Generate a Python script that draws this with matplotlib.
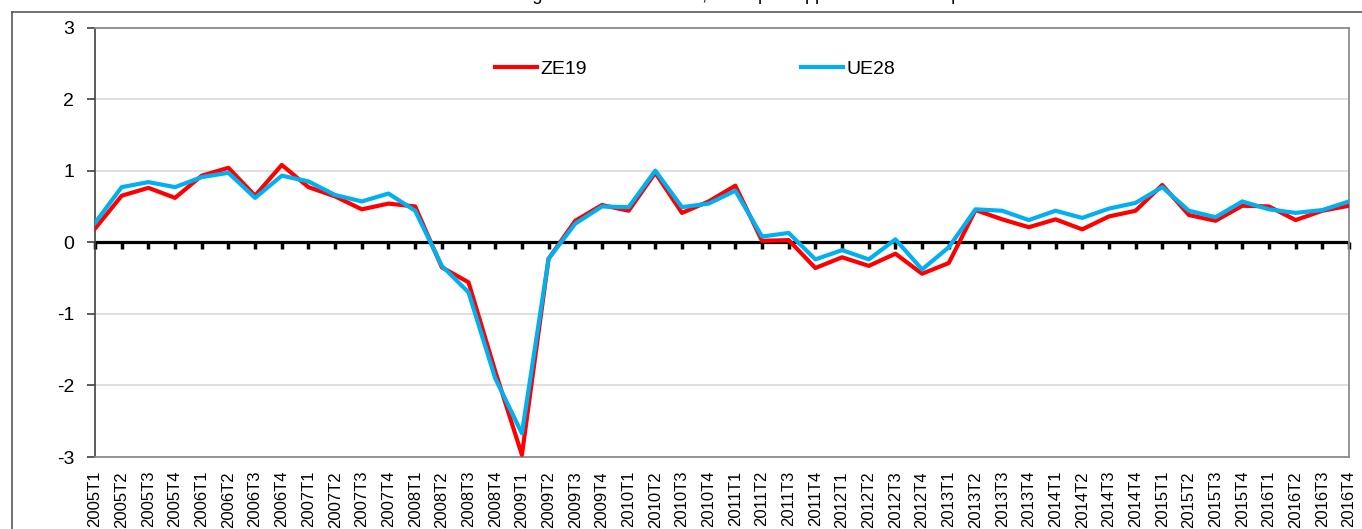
import matplotlib
matplotlib.use("Agg")
import matplotlib.pyplot as plt
from matplotlib.lines import Line2D

plt.rcParams['font.family'] = ['Liberation Sans', 'DejaVu Sans']
plt.rcParams['axes.unicode_minus'] = False

# -- données : croissance trimestrielle du PIB (%) --
years = list(range(2005, 2017))
quarters = ['T1', 'T2', 'T3', 'T4']
labels = [f'{y}{q}' for y in years for q in quarters]

ze19 = [0.19, 0.65, 0.76, 0.62, 0.93, 1.04, 0.65, 1.08, 0.77, 0.64,
        0.46, 0.54, 0.50, -0.35, -0.56, -1.80, -2.97, -0.23, 0.30, 0.52,
        0.44, 0.97, 0.41, 0.57, 0.79, 0.02, 0.03, -0.36, -0.21, -0.33,
        -0.16, -0.44, -0.29, 0.45, 0.32, 0.21, 0.32, 0.18, 0.36, 0.44,
        0.80, 0.38, 0.30, 0.51, 0.50, 0.31, 0.44, 0.51]
ue28 = [0.27, 0.77, 0.84, 0.77, 0.91, 0.97, 0.62, 0.93, 0.85, 0.66,
        0.57, 0.68, 0.44, -0.33, -0.70, -1.90, -2.67, -0.23, 0.26, 0.50,
        0.49, 1.00, 0.49, 0.54, 0.72, 0.08, 0.13, -0.24, -0.11, -0.24,
        0.04, -0.38, -0.07, 0.46, 0.44, 0.31, 0.44, 0.34, 0.47, 0.55,
        0.77, 0.44, 0.35, 0.57, 0.46, 0.41, 0.45, 0.57]
yticks = [-3, -2, -1, 0, 1, 2, 3]

W, H = 1362, 529
fig = plt.figure(figsize=(W / 100, H / 100), dpi=100, facecolor='white')
ax = fig.add_axes([95 / W, 1 - 457 / H, (1349 - 95) / W, (457 - 27.5) / H])

x = list(range(len(labels)))
ax.plot(x, ze19, color='#FF0000', lw=3, label='ZE19', zorder=3)
ax.plot(x, ue28, color='#00B0F0', lw=3, label='UE28', zorder=4)

ax.set_xlim(0, len(labels) - 1)
ax.set_ylim(-3, 3)
ax.set_yticks(yticks)
ax.set_yticklabels([str(v) for v in yticks])
ax.set_xticks(x)
ax.set_xticklabels(labels, rotation=90, fontsize=12)
ax.tick_params(axis='x', length=0, pad=10)
ax.tick_params(axis='y', direction='out', length=6, width=1.2,
               color='#404040', labelsize=14, pad=9)

ax.grid(axis='y', color='#d9d9d9', lw=1.2)
ax.set_axisbelow(True)
for side in ['top', 'right', 'bottom']:
    ax.spines[side].set_color('#8c8c8c')
    ax.spines[side].set_linewidth(1.3)
ax.spines['left'].set_color('#404040')
ax.spines['left'].set_linewidth(1.2)

# axe des catégories qui croise à 0 : ligne noire + graduations vers le bas
ax.axhline(0, color='black', lw=2.3, zorder=2.5)
sec = ax.secondary_xaxis(0.5)
sec.set_xticks(x)
sec.set_xticklabels([])
sec.tick_params(direction='in', length=5, width=2.5, color='black')

fig.legend(loc='center left', bbox_to_anchor=(495 / W, 1 - 69 / H),
           ncol=2, frameon=False, fontsize=14, handlelength=2.15,
           handletextpad=0.2, columnspacing=11.0, borderpad=0,
           borderaxespad=0)

# cadre extérieur (coupé à droite et en bas)
fig.add_artist(Line2D([12 / W, 1], [1 - 12 / H, 1 - 12 / H],
                      transform=fig.transFigure, color='#595959', lw=1.2))
fig.add_artist(Line2D([12 / W, 12 / W], [0, 1 - 12 / H],
                      transform=fig.transFigure, color='#595959', lw=1.2))

# titre, presque entièrement hors cadre comme sur l'original
fig.text(700 / W, 1 + 0.5 / H,
         'Évolution du PIB en glissement trimestriel, en % par rapport au trimestre précédent',
         ha='center', va='baseline', fontsize=13)

fig.savefig('out.png', dpi=100, facecolor='white')
